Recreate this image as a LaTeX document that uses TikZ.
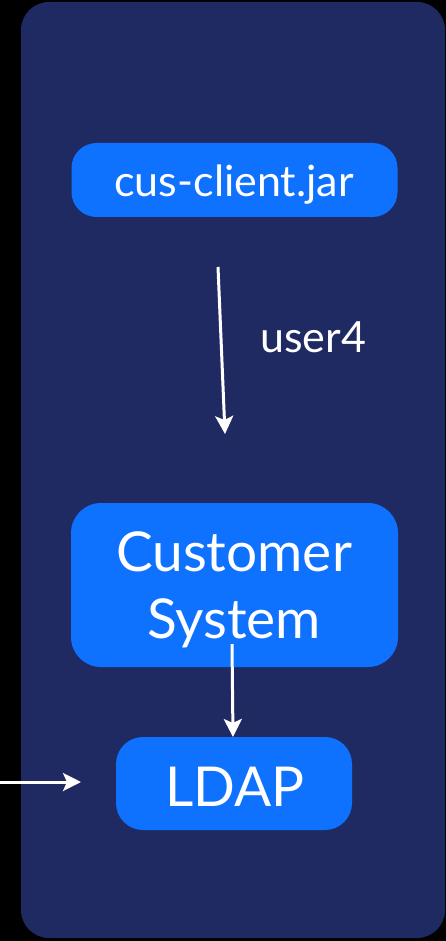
\documentclass[tikz,border=0pt]{standalone}
\usepackage{fontspec}
\setmainfont{Lato}
\usetikzlibrary{arrows.meta}
\definecolor{panel}{RGB}{31,42,99}
\definecolor{boxblue}{RGB}{15,114,255}
\begin{document}
\begin{tikzpicture}[x=1pt,y=-1pt,
  box/.style={fill=boxblue, inner sep=0pt},
  lbl/.style={text=white, inner sep=0pt, anchor=base},
  arr/.style={draw=white, line width=3pt, -{Stealth[length=18pt,width=18pt,inset=4pt]}}]
\fill[black] (0,0) rectangle (446,941);
\useasboundingbox (0,0) rectangle (446,941);
\fill[panel, rounded corners=28pt] (21,2) rectangle (445,938);
% boxes
\node[box, rounded corners=25pt, minimum width=326pt, minimum height=74pt] (client) at (234.5,180) {};
\node[box, rounded corners=30pt, minimum width=327pt, minimum height=164pt] (cs) at (234.5,585) {};
\node[box, rounded corners=27pt, minimum width=236pt, minimum height=93pt] (ldap) at (234,783.5) {};
% texts
\node[lbl, font=\fontsize{43}{50}\selectfont] (tclient) at (234,197) {cus-client.jar};
\node[lbl, align=center, font=\fontsize{55}{67}\selectfont] (tcs) at (234,638) {Customer\\System};
\node[lbl, font=\fontsize{55}{66}\selectfont] (tldap) at (235,806) {LDAP};
\node[lbl, font=\fontsize{43}{48}\selectfont] (user) at (313,352) {user4};
% connectors
\coordinate (a1s) at (218,267);
\coordinate (a1e) at (225,434);
\coordinate (a2s) at (232,644);
\coordinate (a2e) at (233,737);
\coordinate (a3s) at (0,782);
\coordinate (a3e) at (81,782);
\draw[arr] (a1s) -- (a1e);
\draw[arr] (a2s) -- (a2e);
\draw[arr] (a3s) -- (a3e);
\end{tikzpicture}
\end{document}
